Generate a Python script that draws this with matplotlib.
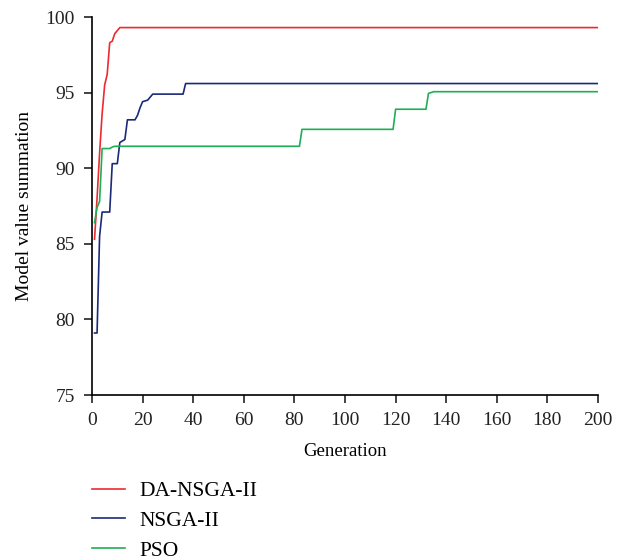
import matplotlib
matplotlib.use("Agg")
import matplotlib.pyplot as plt

plt.rcParams["font.family"] = ["Liberation Serif", "DejaVu Serif"]

# Best model value summation per generation (breakpoints of each curve)
da_gen = [1, 2, 3, 4, 5, 6, 7, 8, 9, 10, 11, 200]
da_val = [85.3, 88.0, 91.0, 93.6, 95.5, 96.2, 98.3, 98.4, 98.9, 99.1, 99.3, 99.3]

nsga_gen = [1, 2, 3, 4, 7, 8, 10, 11, 12, 13, 14, 17, 18, 19, 20, 22, 23, 24, 36, 37, 200]
nsga_val = [79.1, 79.1, 85.5, 87.1, 87.1, 90.3, 90.3, 91.7, 91.8, 91.9, 93.2, 93.2,
            93.5, 94.0, 94.4, 94.5, 94.7, 94.9, 94.9, 95.6, 95.6]

pso_gen = [1, 2, 3, 4, 7, 8, 9, 82, 83, 119, 120, 132, 133, 134, 135, 200]
pso_val = [86.4, 87.4, 87.8, 91.3, 91.3, 91.4, 91.45, 91.45, 92.57, 92.57,
           93.9, 93.9, 94.95, 95.0, 95.06, 95.06]

labels = ["DA-NSGA-II", "NSGA-II", "PSO"]
colors = ["#ec2a2f", "#1b2a78", "#1fae55"]

x_ticks = list(range(0, 201, 20))
y_ticks = [75, 80, 85, 90, 95, 100]

W, H = 622, 560
fig = plt.figure(figsize=(W / 100, H / 100), dpi=100)
ax = fig.add_axes([92 / W, 1 - 395 / H, (598 - 92) / W, (395 - 17) / H])

series = [(da_gen, da_val), (nsga_gen, nsga_val), (pso_gen, pso_val)]
handles = []
for (g, v), lab, col in zip(series, labels, colors):
    h, = ax.plot(g, v, color=col, lw=1.2, label=lab)
    handles.append(h)

ax.set_xlim(0, 200)
ax.set_ylim(75, 100)
ax.set_xticks(x_ticks)
ax.set_yticks(y_ticks)
for s in ["top", "right"]:
    ax.spines[s].set_visible(False)
for s in ["left", "bottom"]:
    ax.spines[s].set_linewidth(1.2)
ax.tick_params(direction="out", length=5.5, width=1.2, labelsize=14,
               colors="#222222", pad=7)
ax.set_xlabel("Generation", fontsize=13.5, labelpad=10)
ax.set_ylabel("Model value summation", fontsize=14, labelpad=9)

leg = fig.legend(handles=handles, labels=labels, loc="upper left",
                 bbox_to_anchor=(92 / W, 1 - 481 / H), frameon=False,
                 fontsize=15.5, handlelength=1.55, handletextpad=0.65,
                 labelspacing=0.45, borderpad=0, borderaxespad=0)

fig.savefig("out.png", dpi=100)
